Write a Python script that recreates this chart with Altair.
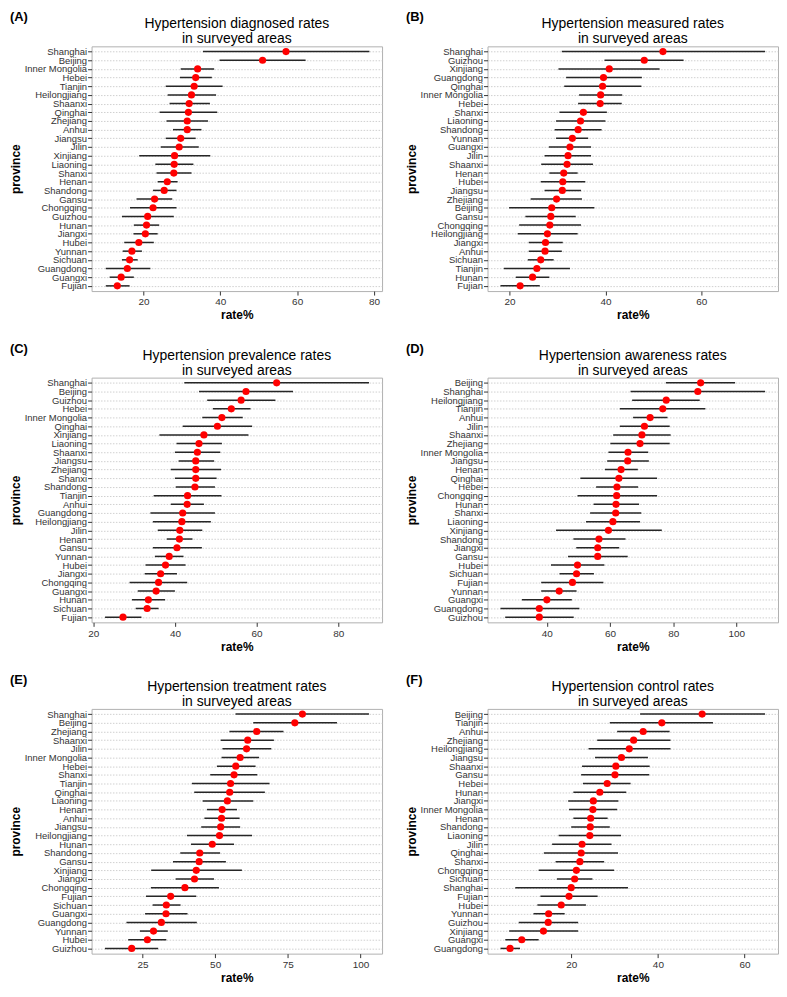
import altair as alt
import pandas as pd

FONT = "Liberation Sans"

# ---------------- Panel A: diagnosed ----------------
A_prov = ["Shanghai", "Beijing", "Inner Mongolia", "Hebei", "Tianjin", "Heilongjiang", "Shaanxi",
          "Qinghai", "Zhejiang", "Anhui", "Jiangsu", "Jilin", "Xinjiang", "Liaoning", "Shanxi",
          "Henan", "Shandong", "Gansu", "Chongqing", "Guizhou", "Hunan", "Jiangxi", "Hubei",
          "Yunnan", "Sichuan", "Guangdong", "Guangxi", "Fujian"]
A_rate = [57.1, 51.0, 34.1, 33.6, 33.2, 32.5, 31.9, 31.7, 31.4, 31.4, 29.7, 29.3, 28.1, 28.0, 27.9,
          26.2, 25.4, 22.9, 22.5, 21.1, 20.8, 20.5, 18.8, 17.0, 16.4, 15.8, 14.2, 13.2]
A_lo = [35.5, 39.8, 29.7, 29.5, 25.8, 26.3, 26.8, 24.2, 26.0, 27.7, 25.8, 24.5, 18.9, 23.1, 23.4,
        23.7, 22.5, 18.2, 16.5, 14.4, 17.5, 17.4, 15.0, 14.6, 14.4, 10.2, 11.2, 10.2]
A_hi = [78.8, 62.2, 38.4, 37.8, 40.6, 38.9, 37.3, 39.2, 36.8, 35.1, 33.6, 34.4, 37.4, 33.0, 32.5,
        28.9, 28.6, 27.5, 28.6, 27.9, 24.1, 23.7, 22.7, 19.6, 18.5, 21.8, 17.5, 16.4]

# ---------------- Panel B: measured ----------------
B_prov = ["Shanghai", "Guizhou", "Xinjiang", "Guangdong", "Qinghai", "Inner Mongolia", "Hebei",
          "Shanxi", "Liaoning", "Shandong", "Yunnan", "Guangxi", "Jilin", "Shaanxi", "Henan",
          "Hubei", "Jiangsu", "Zhejiang", "Beijing", "Gansu", "Chongqing", "Heilongjiang",
          "Jiangxi", "Anhui", "Sichuan", "Tianjin", "Hunan", "Fujian"]
B_rate = [52.0, 48.1, 40.8, 39.6, 39.4, 39.0, 38.9, 35.4, 34.8, 34.3, 33.1, 32.6, 32.2, 32.0, 31.3,
          31.1, 31.0, 29.8, 28.8, 28.6, 28.4, 27.9, 27.5, 27.4, 26.5, 25.7, 24.8, 22.2]
B_lo = [30.9, 39.8, 30.2, 31.8, 31.4, 34.5, 34.3, 30.4, 29.7, 29.4, 29.7, 28.2, 27.3, 26.6, 28.3,
        26.5, 27.3, 24.4, 19.9, 23.3, 22.0, 21.7, 24.0, 24.0, 23.8, 18.8, 21.3, 18.1]
B_hi = [73.3, 56.3, 51.3, 47.6, 47.5, 43.5, 43.4, 40.3, 40.0, 39.2, 36.4, 37.0, 37.0, 37.4, 34.2,
        35.8, 34.9, 35.1, 37.7, 33.8, 34.9, 34.2, 31.1, 30.9, 29.2, 32.6, 28.3, 26.3]

# ---------------- Panel C: prevalence ----------------
C_prov = ["Shanghai", "Beijing", "Guizhou", "Hebei", "Inner Mongolia", "Qinghai", "Xinjiang",
          "Liaoning", "Shaanxi", "Jiangsu", "Zhejiang", "Shanxi", "Shandong", "Tianjin", "Anhui",
          "Guangdong", "Heilongjiang", "Jilin", "Henan", "Gansu", "Yunnan", "Hubei", "Jiangxi",
          "Chongqing", "Guangxi", "Hunan", "Sichuan", "Fujian"]
C_rate = [64.9, 57.4, 56.2, 53.8, 51.5, 50.4, 47.1, 45.9, 45.5, 45.1, 45.1, 45.1, 44.9, 43.1, 43.0,
          41.9, 41.7, 41.2, 41.1, 40.5, 38.6, 37.7, 36.5, 36.0, 35.4, 33.5, 33.2, 27.3]
C_lo = [42.3, 45.9, 47.9, 49.3, 46.7, 41.9, 36.2, 40.4, 40.0, 40.9, 39.0, 40.0, 40.2, 34.8, 39.0,
        34.0, 34.6, 35.8, 38.0, 34.6, 35.1, 32.8, 32.6, 28.9, 30.9, 29.5, 30.4, 22.9]
C_hi = [87.5, 68.9, 64.6, 58.5, 56.6, 58.9, 58.0, 51.5, 51.1, 49.6, 51.3, 50.2, 49.8, 51.4, 47.1,
        49.8, 48.8, 46.7, 44.3, 46.6, 42.1, 42.6, 40.5, 43.0, 40.0, 37.6, 36.0, 31.8]

# ---------------- Panel D: awareness ----------------
D_prov = ["Beijing", "Shanghai", "Heilongjiang", "Tianjin", "Anhui", "Jilin", "Shaanxi", "Zhejiang",
          "Inner Mongolia", "Jiangsu", "Henan", "Qinghai", "Hebei", "Chongqing", "Hunan", "Shanxi",
          "Liaoning", "Xinjiang", "Shandong", "Jiangxi", "Gansu", "Hubei", "Sichuan", "Fujian",
          "Yunnan", "Guangxi", "Guangdong", "Guizhou"]
D_rate = [88.7, 87.8, 77.8, 76.7, 72.7, 70.9, 70.1, 69.5, 65.7, 65.6, 63.5, 62.8, 62.2, 62.1, 61.9,
          61.8, 60.9, 59.5, 56.5, 56.1, 56.1, 49.7, 49.4, 48.1, 43.9, 40.0, 37.6, 37.6]
D_lo = [77.7, 66.5, 67.0, 63.1, 67.3, 63.1, 61.0, 60.1, 59.5, 59.1, 58.4, 50.6, 55.6, 49.7, 54.8,
        53.7, 52.4, 42.9, 48.4, 49.3, 46.7, 41.3, 44.0, 38.2, 38.2, 32.1, 25.3, 26.8]
D_hi = [99.6, 109.1, 88.4, 90.2, 78.2, 78.9, 79.2, 78.9, 72.1, 72.3, 68.8, 74.9, 68.9, 74.9, 69.2,
        69.9, 69.5, 76.4, 64.9, 62.9, 65.6, 58.2, 54.9, 57.9, 49.4, 47.9, 50.3, 48.5]

# ---------------- Panel E: treatment ----------------
E_prov = ["Shanghai", "Beijing", "Zhejiang", "Shaanxi", "Jilin", "Inner Mongolia", "Hebei", "Shanxi",
          "Tianjin", "Qinghai", "Liaoning", "Henan", "Anhui", "Jiangsu", "Heilongjiang", "Hunan",
          "Shandong", "Gansu", "Xinjiang", "Jiangxi", "Chongqing", "Fujian", "Sichuan", "Guangxi",
          "Guangdong", "Yunnan", "Hubei", "Guizhou"]
E_rate = [80.0, 77.4, 64.3, 61.2, 60.8, 58.6, 57.1, 56.5, 55.3, 55.0, 54.2, 52.4, 52.2, 51.9, 51.5,
          49.0, 44.7, 44.5, 43.5, 42.9, 39.6, 34.7, 33.2, 33.1, 31.5, 28.8, 26.7, 21.3]
E_lo = [57.0, 63.1, 54.9, 51.9, 52.5, 52.2, 50.6, 48.3, 42.0, 42.8, 45.7, 47.2, 46.3, 45.2, 40.3,
        41.7, 38.0, 35.5, 28.0, 36.4, 27.9, 26.2, 28.5, 25.9, 19.5, 24.1, 20.1, 12.1]
E_hi = [102.9, 91.9, 73.5, 70.2, 69.3, 65.1, 63.9, 64.5, 68.7, 67.1, 63.1, 57.5, 58.4, 58.6, 62.7,
        56.5, 51.7, 53.7, 59.2, 49.6, 51.3, 43.5, 38.1, 40.5, 43.7, 33.7, 33.2, 30.4]

# ---------------- Panel F: control ----------------
F_prov = ["Beijing", "Tianjin", "Anhui", "Zhejiang", "Heilongjiang", "Jiangsu", "Shaanxi", "Gansu",
          "Hebei", "Hunan", "Jiangxi", "Inner Mongolia", "Henan", "Shandong", "Liaoning", "Jilin",
          "Qinghai", "Shanxi", "Chongqing", "Sichuan", "Shanghai", "Fujian", "Hubei", "Yunnan",
          "Guizhou", "Xinjiang", "Guangxi", "Guangdong"]
F_rate = [50.2, 40.9, 36.6, 34.4, 33.4, 31.6, 30.3, 30.1, 28.3, 26.6, 25.1, 25.0, 24.5, 24.4, 24.3,
          22.5, 22.3, 22.0, 21.2, 20.8, 20.0, 19.5, 17.7, 14.8, 14.7, 13.6, 8.6, 5.9]
F_lo = [35.9, 28.9, 30.6, 26.0, 24.0, 25.5, 22.5, 22.3, 22.7, 20.5, 19.3, 19.5, 20.5, 20.0, 17.1,
        15.6, 13.7, 16.4, 12.5, 16.7, 7.1, 12.9, 12.2, 11.3, 7.9, 5.7, 4.8, 3.7]
F_hi = [64.7, 52.7, 42.7, 42.9, 42.9, 37.7, 38.1, 38.0, 33.7, 32.7, 30.9, 30.6, 28.4, 28.9, 31.5,
        29.3, 30.8, 27.6, 29.9, 24.9, 33.1, 26.1, 23.4, 18.5, 21.6, 21.6, 12.5, 8.2]

LABELS = ["(A)", "(B)", "(C)", "(D)", "(E)", "(F)"]
TITLES = [
    ["Hypertension diagnosed rates", "in surveyed areas"],
    ["Hypertension measured rates", "in surveyed areas"],
    ["Hypertension prevalence rates", "in surveyed areas"],
    ["Hypertension awareness rates", "in surveyed areas"],
    ["Hypertension treatment rates", "in surveyed areas"],
    ["Hypertension control rates", "in surveyed areas"],
]
DOMAINS = [[6.5, 82.1], [15.4, 76.0], [19.6, 90.7], [21.2, 113.2], [7.5, 107.4], [0.7, 67.7]]
TICKS = [[20, 40, 60, 80], [20, 40, 60], [20, 40, 60, 80], [40, 60, 80, 100], [25, 50, 75, 100], [20, 40, 60]]

W = 292
H = 246


def panel(label, title_lines, prov, rate, lo, hi, domain, ticks):
    df = pd.DataFrame({"province": prov, "rate": rate, "lo": lo, "hi": hi})
    base = alt.Chart(df)
    yenc = alt.Y(
        "province:N",
        sort=prov,
        scale=alt.Scale(type="point", padding=0.6),
        axis=alt.Axis(
            title="province", labelFontSize=9.5, labelColor="#333333", labelPadding=1,
            tickSize=4, tickColor="#333333", tickWidth=1, grid=True, gridDash=[1.5, 1.5],
            gridColor="#C4C4C4", gridWidth=0.8, domain=False, titleFontSize=12,
            titleFontWeight="bold", titleColor="#000000", titlePadding=2,
        ),
    )
    xscale = alt.Scale(domain=domain, nice=False, zero=False)
    xaxis = alt.Axis(
        title="rate%", values=ticks, grid=False, domain=False, labelFontSize=10,
        labelColor="#333333", tickSize=4, tickColor="#333333", labelPadding=2,
        titleFontSize=12, titleFontWeight="bold", titleColor="#000000", titlePadding=3,
    )
    bars = base.mark_rule(color="#262626", strokeWidth=1.5).encode(
        x=alt.X("lo:Q", scale=xscale, axis=xaxis), x2="hi:Q", y=yenc
    )
    pts = base.mark_circle(color="#FF0000", size=52, opacity=1).encode(
        x=alt.X("rate:Q", scale=xscale, axis=xaxis), y=yenc
    )
    one = alt.Chart(pd.DataFrame({"k": [0]}))
    ttl = one.mark_text(
        text=title_lines, fontSize=14, font=FONT, align="center", baseline="alphabetic",
        lineHeight=15, color="#000000",
    ).encode(x=alt.value(W / 2), y=alt.value(-18))
    lab = one.mark_text(
        text=label, fontSize=13, font=FONT, fontWeight="bold", align="left", baseline="top",
        color="#000000",
    ).encode(x=alt.value(-82), y=alt.value(-35))
    return alt.layer(bars, pts, ttl, lab).properties(width=W, height=H)


panels = []
for i, (p, r, l, h) in enumerate([
    (A_prov, A_rate, A_lo, A_hi), (B_prov, B_rate, B_lo, B_hi),
    (C_prov, C_rate, C_lo, C_hi), (D_prov, D_rate, D_lo, D_hi),
    (E_prov, E_rate, E_lo, E_hi), (F_prov, F_rate, F_lo, F_hi),
]):
    panels.append(panel(LABELS[i], TITLES[i], p, r, l, h, DOMAINS[i], TICKS[i]))

chart = alt.concat(*panels, columns=2, spacing={"row": 20, "column": 21}).properties(
    padding=0
).configure(font=FONT).configure_view(stroke="#B0B0B0", strokeWidth=1)

chart.save("out.html", embed_options={"renderer": "svg", "actions": False})
